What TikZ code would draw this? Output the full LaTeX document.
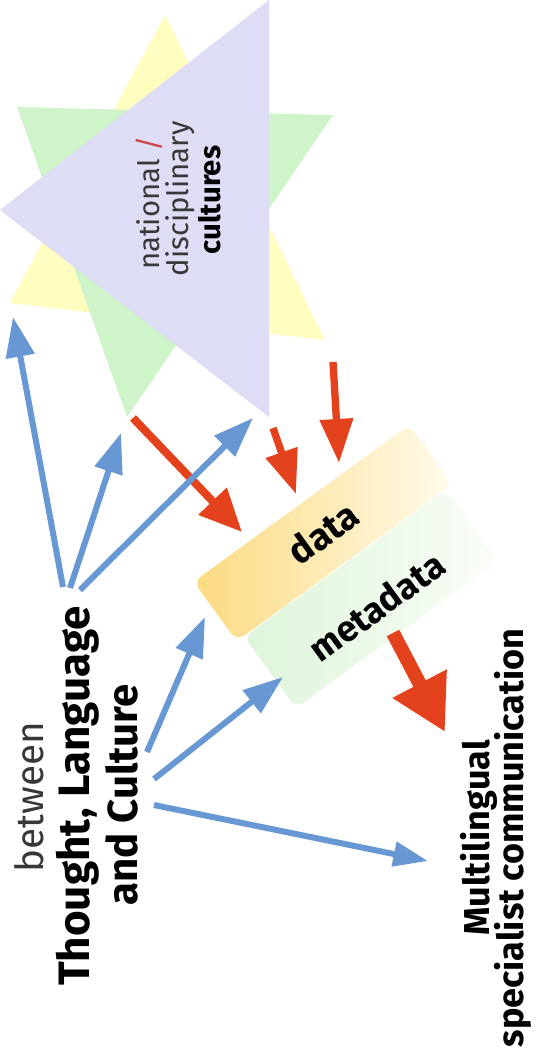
\documentclass[tikz,border=0pt]{standalone}
\usepackage{fontspec}
\setmainfont{Fira Sans}
\usetikzlibrary{arrows.meta}

\definecolor{lav}{RGB}{221,221,245}
\definecolor{pyel}{RGB}{255,253,192}
\definecolor{pgrn}{RGB}{207,244,202}
\definecolor{arrblue}{RGB}{104,152,212}
\definecolor{arrred}{RGB}{228,66,28}
\definecolor{txtgray}{RGB}{55,55,55}
\definecolor{slashred}{RGB}{205,70,70}
\definecolor{dataL}{RGB}{251,218,128}
\definecolor{dataR}{RGB}{255,251,236}
\definecolor{metaL}{RGB}{222,245,218}
\definecolor{metaR}{RGB}{250,253,248}

\tikzset{
  vlabel/.style={rotate=90, anchor=base, inner sep=0pt, align=center},
  bluearr/.style={draw=arrblue, line width=4.5pt,
    -{Triangle[length=30pt,width=21pt]}},
  redarr/.style={draw=arrred, line width=5.5pt,
    -{Triangle[length=33pt,width=24pt]}},
  layerbox/.style={rotate=36, rounded corners=7pt, inner sep=0pt},
}

\begin{document}
\begin{tikzpicture}[x=0.75pt,y=-0.75pt]
\useasboundingbox (0,0) rectangle (536,1052);
\fill[white] (0,0) rectangle (536,1052);

% six-pointed figure of overlapping triangles
\fill[pyel] (165,15) -- (10,303) -- (325,340) -- cycle;
\fill[pgrn] (17,107) -- (333,115) -- (127,417) -- cycle;
\fill[lav] (269,0) -- (0,210) -- (269,417) -- cycle;

\node[vlabel, font=\fontsize{22}{24}\selectfont, text=txtgray] (national) at (159,203) {national {\color{slashred}/}};
\node[vlabel, font=\fontsize{22}{24}\selectfont, text=txtgray] (discipl) at (188,199) {disciplinary};
\node[vlabel, font=\bfseries\fontsize{22}{24}\selectfont, text=black] (cultures) at (220,200) {cultures};

% data / metadata layers, stacked side by side
\node[layerbox, minimum width=200pt, minimum height=55pt,
      left color=dataL, right color=dataR,
      font=\bfseries\fontsize{28}{30}\selectfont] (data) at (323,533) {data};
\node[layerbox, minimum width=187pt, minimum height=66pt,
      left color=metaL, right color=metaR,
      font=\bfseries\fontsize{27}{30}\selectfont] (metadata) at (371,599)
      {\raisebox{-7pt}[\height][\depth]{metadata}};

% captions
\node[vlabel, font=\fontsize{29}{32}\selectfont, text=txtgray] (between) at (43,797) {between};
\node[vlabel, font=\bfseries\fontsize{33}{36}\selectfont] (thought) at (89,796) {Thought, Language};
\node[vlabel, font=\bfseries\fontsize{31.5}{34}\selectfont] (culture) at (137,795) {and Culture};
\node[vlabel, font=\bfseries\fontsize{27}{30}\selectfont] (multi) at (489,838) {Multilingual};
\node[vlabel, font=\bfseries\fontsize{27}{30}\selectfont] (special) at (523,838) {specialist communication};

% arrow end points
\coordinate (r7s) at (133,418);  \coordinate (r7e) at (242,532);
\coordinate (r8s) at (273,428);  \coordinate (r8e) at (296,494);
\coordinate (r9s) at (333,362);  \coordinate (r9e) at (339,463);
\coordinate (r10s) at (393,633); \coordinate (r10e) at (445,732);
\coordinate (b1s) at (63,587);   \coordinate (b1e) at (13,317);
\coordinate (b2s) at (70,588);   \coordinate (b2e) at (121,433);
\coordinate (b3s) at (80,590);   \coordinate (b3e) at (253,418);
\coordinate (b4s) at (147,752);  \coordinate (b4e) at (205,617);
\coordinate (b5s) at (154,779);  \coordinate (b5e) at (283,677);
\coordinate (b6s) at (154,805);  \coordinate (b6e) at (428,861);

% red arrows: culture into data, data out to communication
\draw[redarr, line width=6pt, -{Triangle[length=32pt,width=28pt]}] (r7s) -- (r7e);
\draw[redarr] (r8s) -- (r8e);
\draw[redarr] (r9s) -- (r9e);
\draw[redarr, line width=10.5pt, -{Triangle[length=41pt,width=43pt]}] (r10s) -- (r10e);

% blue arrows from the caption
\draw[bluearr] (b1s) -- (b1e);
\draw[bluearr] (b2s) -- (b2e);
\draw[bluearr] (b3s) -- (b3e);
\draw[bluearr] (b4s) -- (b4e);
\draw[bluearr] (b5s) -- (b5e);
\draw[bluearr, -{Triangle[length=26pt,width=18pt]}] (b6s) -- (b6e);
\end{tikzpicture}
\end{document}
